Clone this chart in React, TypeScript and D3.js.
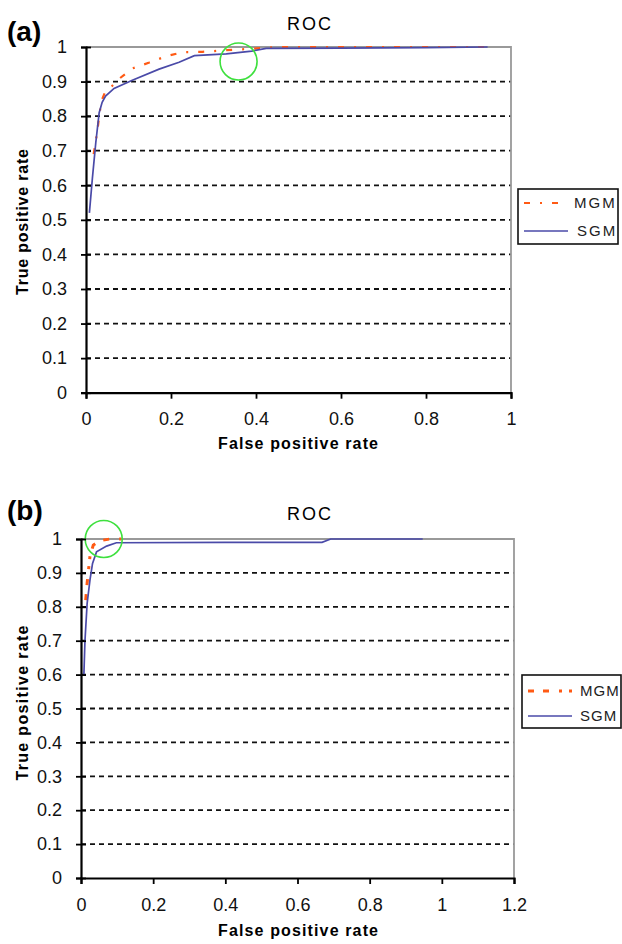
import React, { useEffect, useRef } from "react"
import * as d3 from "d3"

// panel (a)
const mgmA_fpr = [0.018, 0.022, 0.027, 0.032, 0.038, 0.045, 0.058, 0.08, 0.109, 0.149, 0.188, 0.227, 0.274, 0.345, 0.377, 0.45, 0.95]
const mgmA_tpr = [0.69, 0.72, 0.76, 0.81, 0.849, 0.87, 0.883, 0.91, 0.938, 0.955, 0.973, 0.985, 0.986, 0.992, 0.994, 1.0, 1.0]
const sgmA_fpr = [0.008, 0.015, 0.023, 0.031, 0.038, 0.046, 0.066, 0.109, 0.172, 0.219, 0.255, 0.33, 0.39, 0.424, 0.6, 0.8, 0.945]
const sgmA_tpr = [0.52, 0.62, 0.723, 0.81, 0.84, 0.858, 0.88, 0.904, 0.936, 0.956, 0.975, 0.98, 0.988, 0.996, 0.997, 0.998, 1.0]
const circleA = [0.359, 0.958]

// panel (b)
const mgmB_fpr = [0.013, 0.017, 0.021, 0.025, 0.034, 0.052, 0.08, 0.112]
const mgmB_tpr = [0.82, 0.87, 0.91, 0.95, 0.982, 0.995, 1.0, 1.0]
const sgmB_fpr = [0.008, 0.011, 0.017, 0.025, 0.032, 0.043, 0.071, 0.098, 0.4, 0.668, 0.692, 0.947]
const sgmB_tpr = [0.6, 0.7, 0.81, 0.88, 0.928, 0.962, 0.979, 0.989, 0.99, 0.99, 1.0, 1.0]
const circleB = [0.063, 1.0]

const yTicks = [0, 0.1, 0.2, 0.3, 0.4, 0.5, 0.6, 0.7, 0.8, 0.9, 1]
const xTicksA = [0, 0.2, 0.4, 0.6, 0.8, 1]
const xTicksB = [0, 0.2, 0.4, 0.6, 0.8, 1, 1.2]
const seriesNames = ["MGM", "SGM"]

const BLUE = "#4a4aa8"
const ORANGE = "#ff5a14"
const GREEN = "#3ee03e"
const FONT = "'Liberation Sans', Arial, sans-serif"

const zip = (xs: number[], ys: number[]) => xs.map((x, i) => [x, ys[i]] as [number, number])

function drawPanel(svg: any, p: any) {
  const x = d3.scaleLinear().domain([0, p.xMax]).range([p.left, p.right])
  const y = d3.scaleLinear().domain([0, 1]).range([p.bottom, p.top])
  const g = svg.append("g")

  // panel letter + title
  g.append("text").attr("x", 7).attr("y", p.letterY)
    .style("font", `bold 28px ${FONT}`).text(p.letter)
  g.append("text").attr("x", 287).attr("y", p.titleY)
    .style("font", `18px ${FONT}`).style("letter-spacing", "2px").text("ROC")

  // grid
  g.selectAll(".grid").data(yTicks.filter(t => t > 0 && t < 1)).enter()
    .append("line")
    .attr("x1", p.left).attr("x2", p.right)
    .attr("y1", d => y(d)).attr("y2", d => y(d))
    .attr("stroke", "#111").attr("stroke-width", 1.8).attr("stroke-dasharray", "5,4")

  // grey frame top/right
  g.append("path")
    .attr("d", `M${p.left},${y(1)}H${p.right}V${p.bottom}`)
    .attr("fill", "none").attr("stroke", "#999").attr("stroke-width", 1.8)

  const line = d3.line().x(d => x(d[0])).y(d => y(d[1]))

  g.append("path").datum(zip(p.mgmX, p.mgmY))
    .attr("fill", "none").attr("stroke", ORANGE).attr("stroke-width", p.mgmWidth)
    .attr("stroke-dasharray", p.mgmDash).attr("d", line)
  g.append("path").datum(zip(p.sgmX, p.sgmY))
    .attr("fill", "none").attr("stroke", BLUE).attr("stroke-width", 1.7)
    .attr("d", line)

  g.append("circle").attr("cx", x(p.circle[0])).attr("cy", y(p.circle[1])).attr("r", 18.5)
    .attr("fill", "none").attr("stroke", GREEN).attr("stroke-width", 1.6)

  // axes
  const yAxis = g.append("g").attr("transform", `translate(${p.left},0)`)
    .call(d3.axisLeft(y).tickValues(yTicks).tickSize(5).tickPadding(14).tickFormat(d3.format("")))
  yAxis.selectAll(".tick line").attr("x1", 5).attr("stroke-width", 1.8)
  const xAxis = g.append("g").attr("transform", `translate(0,${p.bottom})`)
    .call(d3.axisBottom(x).tickValues(p.xTicks).tickSize(6).tickPadding(14).tickFormat(d3.format("")))
  xAxis.selectAll(".tick line").attr("stroke-width", 1.8)
  for (const a of [xAxis, yAxis]) {
    a.select(".domain").attr("stroke", "#000").attr("stroke-width", 2.2)
    a.selectAll("text").style("font", `18px ${FONT}`).attr("fill", "#111")
  }

  g.append("text").attr("x", 298).attr("y", p.xTitleY).attr("text-anchor", "middle")
    .attr("textLength", 160).attr("lengthAdjust", "spacing")
    .style("font", `bold 16px ${FONT}`).text("False positive rate")
  g.append("text").attr("transform", `translate(28,${p.yTitleC}) rotate(-90)`).attr("text-anchor", "middle")
    .attr("textLength", p.yTitleLen).attr("lengthAdjust", "spacing")
    .style("font", `bold 16px ${FONT}`).text("True positive rate")

  // legend
  const L = p.legend
  g.append("rect").attr("x", L.x).attr("y", L.y).attr("width", L.w).attr("height", L.h)
    .attr("fill", "#fff").attr("stroke", "#111").attr("stroke-width", 1.6)
  seriesNames.forEach((name, i) => {
    const ly = L.y + L.rows[i]
    g.append("line").attr("x1", L.x + 6).attr("x2", L.x + 50).attr("y1", ly).attr("y2", ly)
      .attr("stroke", i === 0 ? ORANGE : BLUE)
      .attr("stroke-width", i === 0 ? p.mgmWidth : 1.7)
      .attr("stroke-dasharray", i === 0 ? p.mgmDash : null)
    g.append("text").attr("x", L.x + L.textX[i]).attr("y", ly + 5)
      .style("font", `15px ${FONT}`).style("letter-spacing", `${L.spacing}px`).attr("fill", "#222").text(name)
  })
}

export default function App() {
  const ref = useRef<SVGSVGElement>(null)
  useEffect(() => {
    const svg = d3.select(ref.current)
    svg.selectAll("*").remove()
    drawPanel(svg, {
      letter: "(a)", letterY: 41, titleY: 30,
      left: 86, right: 511, top: 47, bottom: 392.7, xMax: 1, xTicks: xTicksA,
      mgmX: mgmA_fpr, mgmY: mgmA_tpr, sgmX: sgmA_fpr, sgmY: sgmA_tpr, circle: circleA,
      mgmWidth: 2.2, mgmDash: "6,10,2,10",
      xTitleY: 449, yTitleC: 222, yTitleLen: 146,
      legend: { x: 518, y: 189, w: 100, h: 55, rows: [14, 42], textX: [56, 59], spacing: 2 },
    })
    drawPanel(svg, {
      letter: "(b)", letterY: 520, titleY: 520,
      left: 81, right: 514, top: 539, bottom: 878, xMax: 1.2, xTicks: xTicksB,
      mgmX: mgmB_fpr, mgmY: mgmB_tpr, sgmX: sgmB_fpr, sgmY: sgmB_tpr, circle: circleB,
      mgmWidth: 3, mgmDash: "6,9,6,10,3,7,3,8",
      xTitleY: 936, yTitleC: 703, yTitleLen: 155,
      legend: { x: 522, y: 675, w: 99, h: 53, rows: [16, 41], textX: [58, 58], spacing: 1 },
    })
  }, [])
  return (
    <svg ref={ref} width={622} height={944}
      style={{ position: "absolute", left: 0, top: 0, background: "#fff" }} />
  )
}
